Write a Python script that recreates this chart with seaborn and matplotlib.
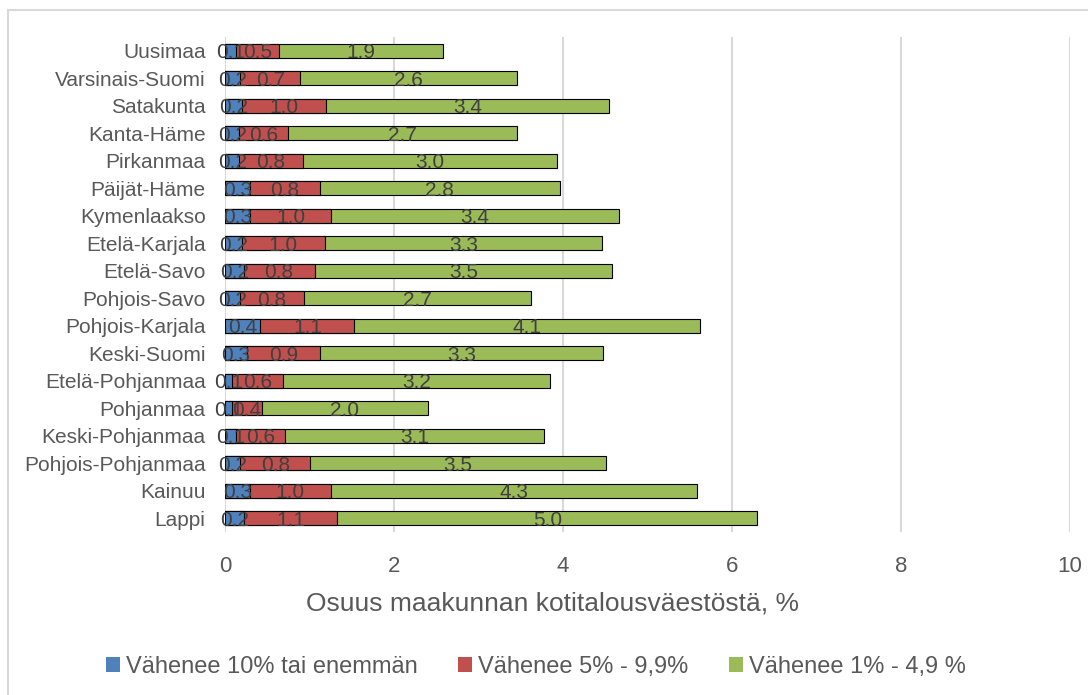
import matplotlib

matplotlib.use("Agg")

import matplotlib.pyplot as plt
import pandas as pd
import seaborn as sns
from matplotlib.patches import Rectangle, Patch

regions = [
    "Uusimaa", "Varsinais-Suomi", "Satakunta", "Kanta-Häme", "Pirkanmaa",
    "Päijät-Häme", "Kymenlaakso", "Etelä-Karjala", "Etelä-Savo", "Pohjois-Savo",
    "Pohjois-Karjala", "Keski-Suomi", "Etelä-Pohjanmaa", "Pohjanmaa",
    "Keski-Pohjanmaa", "Pohjois-Pohjanmaa", "Kainuu", "Lappi",
]
# share of households, %
over_10 = [0.13, 0.18, 0.20, 0.17, 0.17, 0.29, 0.29, 0.20, 0.22, 0.18,
           0.42, 0.26, 0.08, 0.08, 0.13, 0.18, 0.29, 0.23]
from_5_to_10 = [0.51, 0.71, 0.99, 0.58, 0.75, 0.83, 0.97, 0.98, 0.84, 0.75,
                1.11, 0.87, 0.61, 0.36, 0.58, 0.83, 0.96, 1.10]
from_1_to_5 = [1.94, 2.56, 3.36, 2.70, 3.01, 2.84, 3.40, 3.28, 3.52, 2.69,
               4.09, 3.34, 3.16, 1.96, 3.07, 3.50, 4.34, 4.97]
series_names = ["Vähenee 10% tai enemmän", "Vähenee 5% - 9,9%", "Vähenee 1% - 4,9 %"]
colors = ["#4F81BD", "#C0504D", "#9BBB59"]

sns.set_theme(style="white")
plt.rcParams["font.family"] = ["Liberation Sans", "DejaVu Sans"]

df = pd.DataFrame({"region": regions, "a": over_10, "b": from_5_to_10, "c": from_1_to_5})
df["cum_a"] = df["a"]
df["cum_b"] = df["a"] + df["b"]
df["cum_c"] = df["cum_b"] + df["c"]

fig = plt.figure(figsize=(10.88, 6.95), dpi=100)
ax = fig.add_axes([225 / 1088, 1 - 532 / 695, (1070 - 225) / 1088, (532 - 37) / 695])

# stacked bars drawn as overlapping cumulative bars
for col, color in zip(["cum_c", "cum_b", "cum_a"], colors[::-1]):
    sns.barplot(data=df, x=col, y="region", orient="h", color=color, width=0.5,
                edgecolor="black", linewidth=0.8, saturation=1, ax=ax)

text_color = "#404040"
for i, row in df.iterrows():
    starts = [0, row["cum_a"], row["cum_b"]]
    for start, val in zip(starts, [row["a"], row["b"], row["c"]]):
        ax.text(start + val / 2, i + 0.08, f"{val:.1f}", ha="center", va="center",
                fontsize=15, color=text_color)

ax.set_xlim(0, 10)
ax.set_xticks([0, 2, 4, 6, 8, 10])
ax.grid(axis="x", color="#D9D9D9", linewidth=1.5)
ax.set_axisbelow(True)
for side in ["top", "right", "bottom", "left"]:
    ax.spines[side].set_visible(False)
ax.tick_params(axis="x", length=0, pad=17, labelsize=16, labelcolor="#595959")
ax.tick_params(axis="y", length=0, pad=14, labelsize=15, labelcolor="#595959")
ax.set_ylabel("")
ax.set_xlabel("")
fig.text(552 / 1088, 1 - 604 / 695, "Osuus maakunnan kotitalousväestöstä, %",
         ha="center", va="center", fontsize=19, color="#595959")

handles = [Patch(facecolor=c, edgecolor="none") for c in colors]
fig.legend(handles, series_names, loc="center", bbox_to_anchor=(536 / 1088, 1 - 667 / 695), ncol=3,
           frameon=False, fontsize=17, handlelength=0.6, handleheight=0.6,
           handletextpad=0.25, columnspacing=1.7, labelcolor="#595959")

fig.patches.append(Rectangle((8 / 1088, -0.5), 2, 1.5 - 10 / 695, transform=fig.transFigure,
                             fill=False, edgecolor="#D9D9D9", linewidth=1.5))

fig.savefig("out.png", dpi=100)
plt.close(fig)
